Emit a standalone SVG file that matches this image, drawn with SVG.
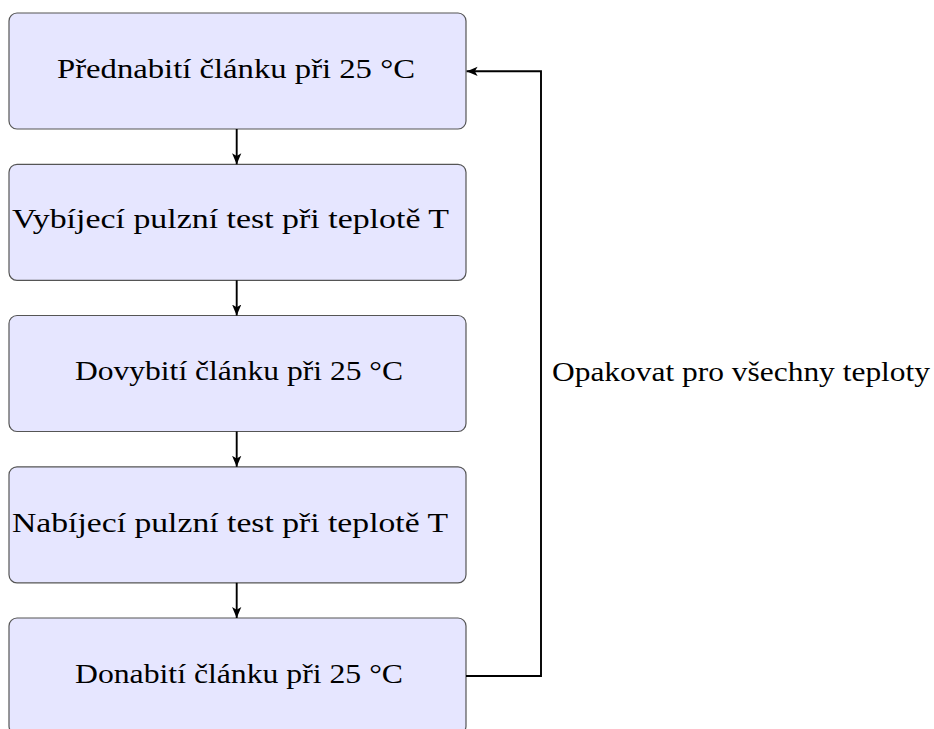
<svg xmlns="http://www.w3.org/2000/svg" width="934" height="729" viewBox="0 0 934 729">
<style>
  .box { fill: #e6e6ff; stroke: #555555; stroke-width: 1.2; }
  .lbl { font-family: "Liberation Serif", "Times New Roman", serif; font-size: 28px; fill: #000000; }
  .conn { fill: none; stroke: #000000; stroke-width: 1.9; }
</style>
<defs>
  <marker id="arr" viewBox="0 0 10 10" refX="10" refY="5" markerWidth="11" markerHeight="11" markerUnits="userSpaceOnUse" orient="auto">
    <path d="M0,0.8 L10,5 L0,9.2 L2.5,5 Z" fill="#000000"/>
  </marker>
</defs>
<rect width="934" height="729" fill="#ffffff"/>
<g id="node1">
  <rect class="box" x="9" y="13" width="457" height="116" rx="8"/>
  <text class="lbl" x="57" y="78" textLength="358" lengthAdjust="spacingAndGlyphs">Přednabití článku při 25 °C</text>
</g>
<g id="node2">
  <rect class="box" x="9" y="164.3" width="457" height="116" rx="8"/>
  <text class="lbl" x="12" y="228" textLength="437" lengthAdjust="spacingAndGlyphs">Vybíjecí pulzní test při teplotě T</text>
</g>
<g id="node3">
  <rect class="box" x="9" y="315.5" width="457" height="116" rx="8"/>
  <text class="lbl" x="75" y="380" textLength="328" lengthAdjust="spacingAndGlyphs">Dovybití článku při 25 °C</text>
</g>
<g id="node4">
  <rect class="box" x="9" y="466.8" width="457" height="116" rx="8"/>
  <text class="lbl" x="12" y="532" textLength="436" lengthAdjust="spacingAndGlyphs">Nabíjecí pulzní test při teplotě T</text>
</g>
<g id="node5">
  <rect class="box" x="9" y="618" width="457" height="116" rx="8"/>
  <text class="lbl" x="75" y="683" textLength="328" lengthAdjust="spacingAndGlyphs">Donabití článku při 25 °C</text>
</g>
<g id="connectors">
  <line class="conn" x1="236.7" y1="129" x2="236.7" y2="164.3" marker-end="url(#arr)"/>
  <line class="conn" x1="236.7" y1="280.3" x2="236.7" y2="315.5" marker-end="url(#arr)"/>
  <line class="conn" x1="236.7" y1="431.5" x2="236.7" y2="466.8" marker-end="url(#arr)"/>
  <line class="conn" x1="236.7" y1="582.8" x2="236.7" y2="618" marker-end="url(#arr)"/>
  <polyline class="conn" points="466,676 541,676 541,71.3 466.6,71.3" marker-end="url(#arr)"/>
  <text class="lbl" x="552" y="381" textLength="378" lengthAdjust="spacingAndGlyphs">Opakovat pro všechny teploty</text>
</g>
</svg>
